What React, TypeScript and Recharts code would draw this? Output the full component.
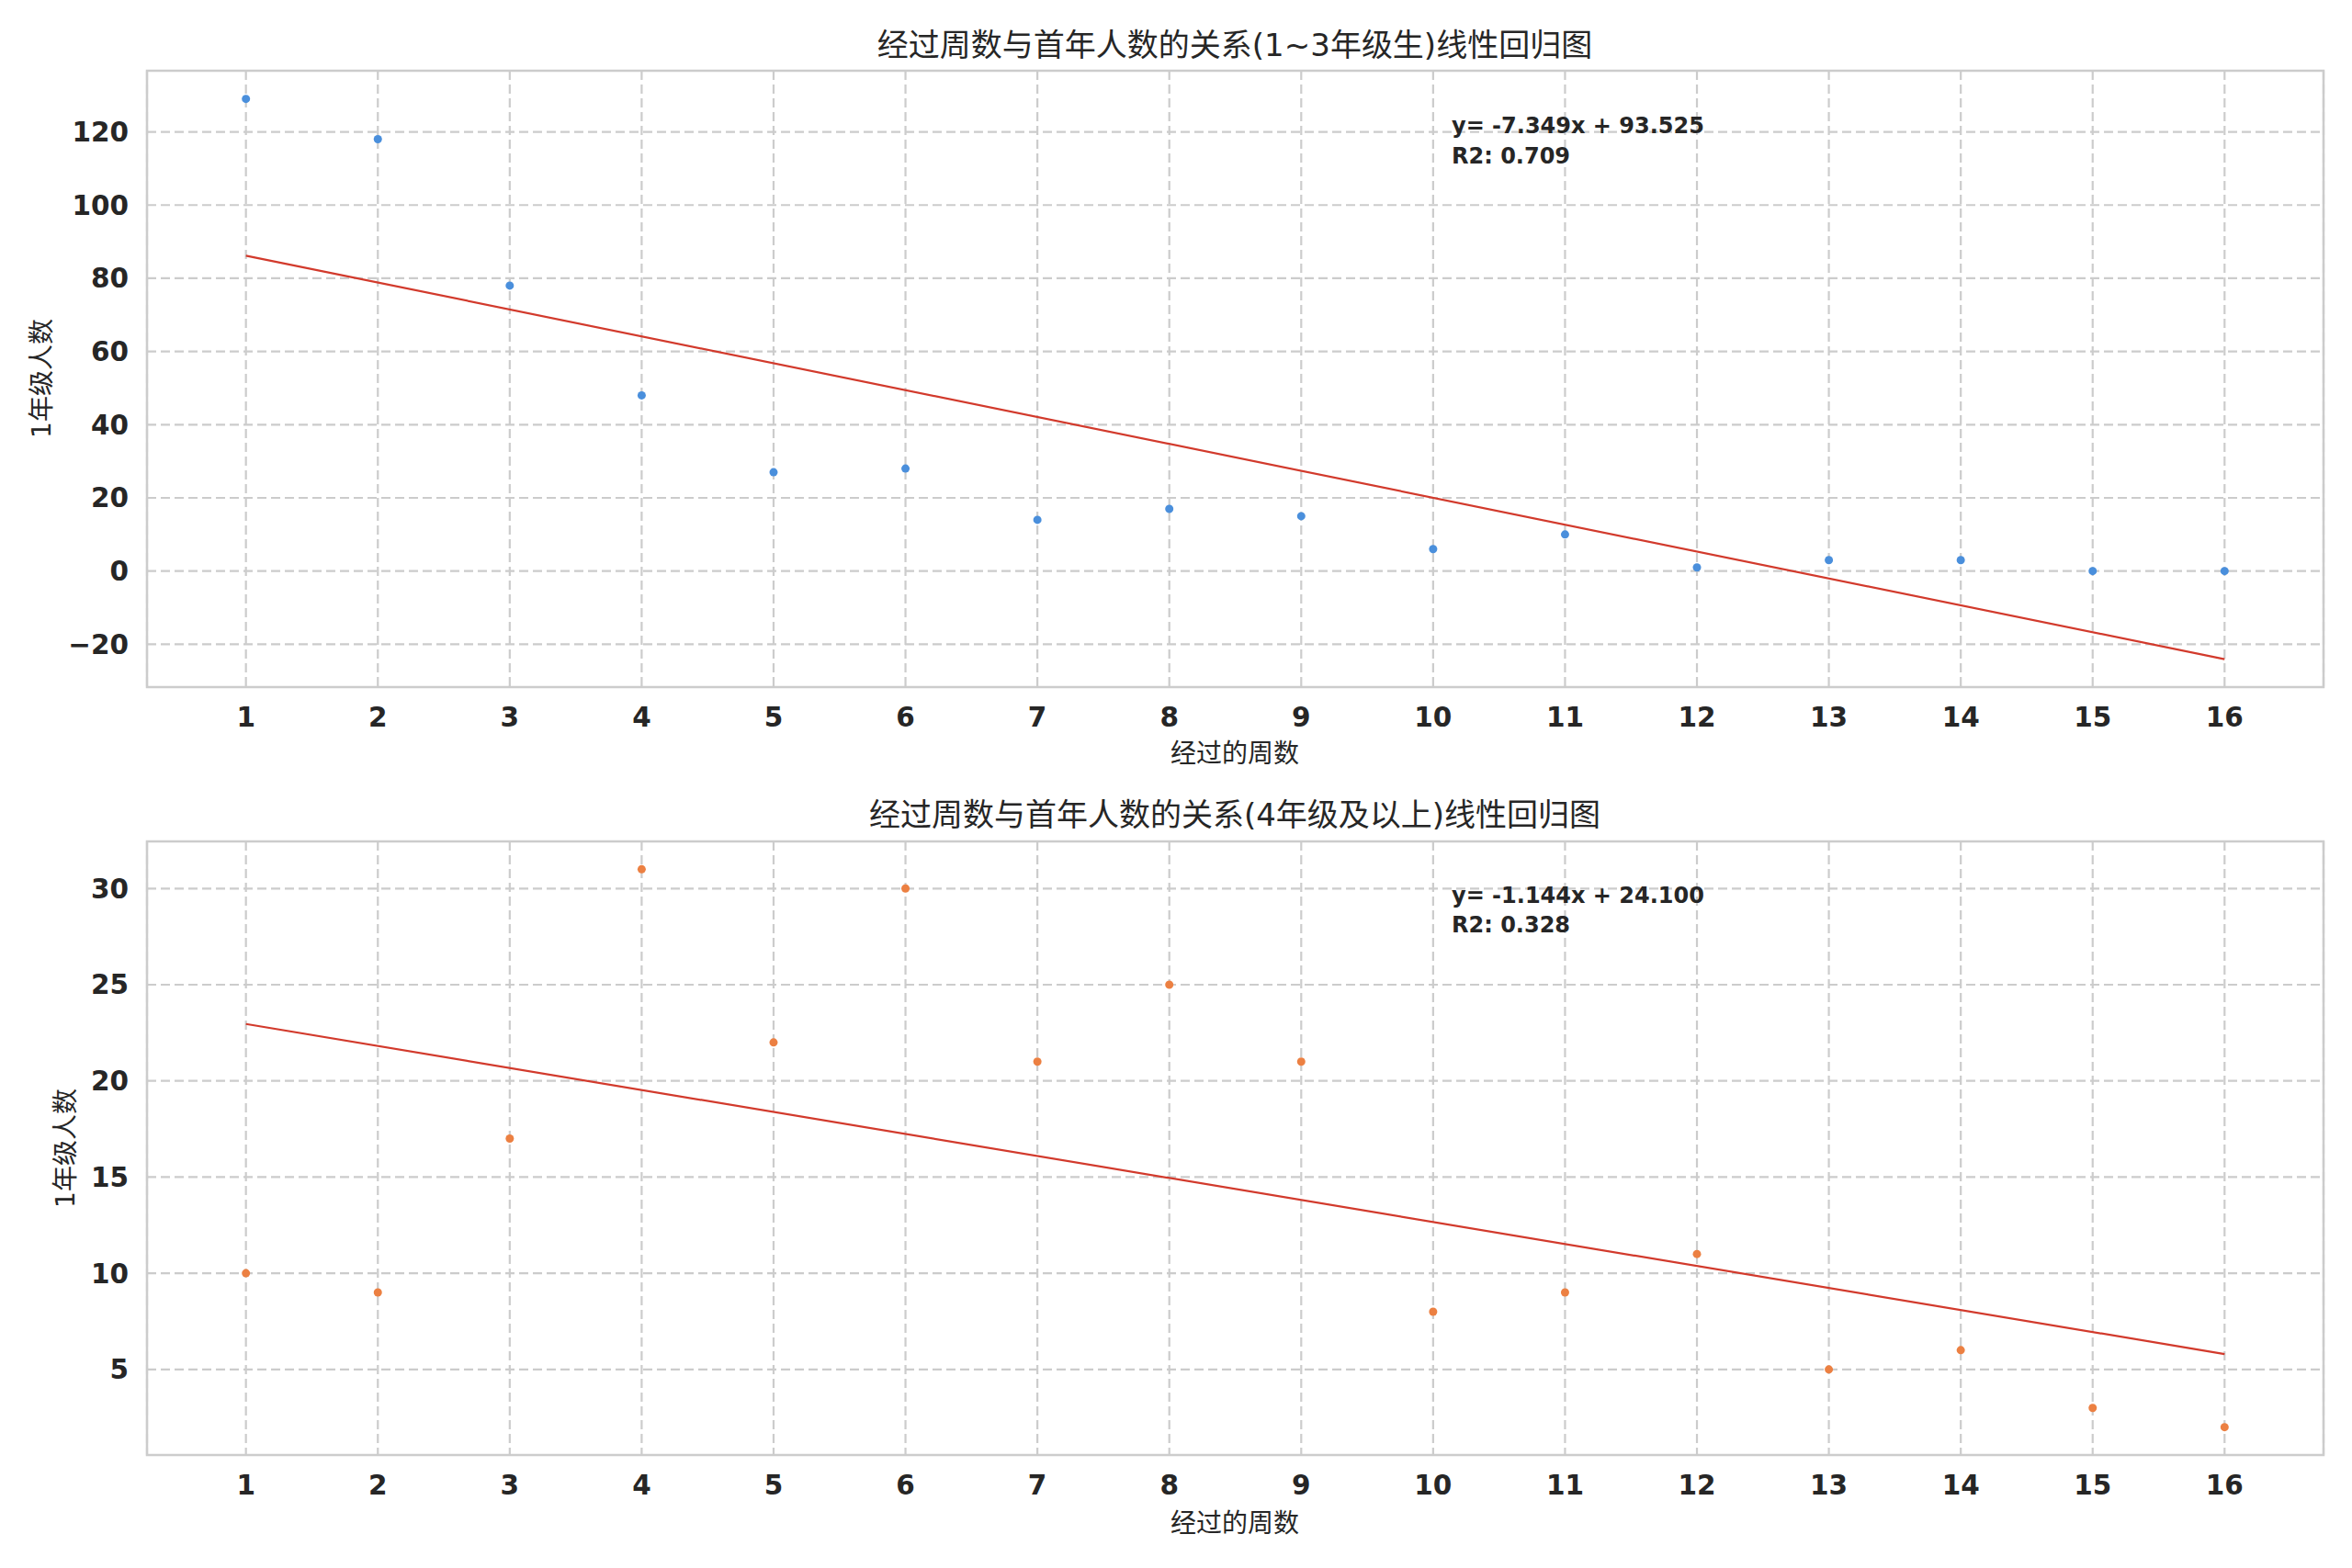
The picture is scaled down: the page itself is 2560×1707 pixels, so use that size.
import React from "react";
import {
  ComposedChart,
  Scatter,
  Line,
  XAxis,
  YAxis,
  CartesianGrid,
  ReferenceArea,
} from "recharts";

const WEEKS = [1, 2, 3, 4, 5, 6, 7, 8, 9, 10, 11, 12, 13, 14, 15, 16];
const EARLY_COUNTS = [129, 118, 78, 48, 27, 28, 14, 17, 15, 6, 10, 1, 3, 3, 0, 0];
const LATE_COUNTS = [10, 9, 17, 31, 22, 30, 21, 25, 21, 8, 9, 11, 5, 6, 3, 2];

const FIT_X = [1, 16];
const EARLY_FIT = [86.18, -24.06];
const LATE_FIT = [22.96, 5.8];

const EARLY_TICKS = [-20, 0, 20, 40, 60, 80, 100, 120];
const LATE_TICKS = [5, 10, 15, 20, 25, 30];

const X_LABEL = "经过的周数";
const Y_LABEL = "1年级人数";

const FONT = "'DejaVu Sans', 'Noto Sans CJK SC', sans-serif";
const TEXT = "#262626";
const GRID = "#cccccc";
const FIT_COLOR = "#d23a2c";
const W = 2560;

type PanelProps = {
  top: number;
  height: number;
  counts: number[];
  fit: number[];
  yDomain: [number, number];
  yTicks: number[];
  color: string;
  marginTop: number;
  marginBottom: number;
};

function fmt(v: number) {
  return v < 0 ? `\u2212${Math.abs(v)}` : String(v);
}

function Panel(p: PanelProps) {
  const points = WEEKS.map((x, i) => ({ x, y: p.counts[i] }));
  const fitLine = FIT_X.map((x, i) => ({ x, y: p.fit[i] }));
  const tick = { fill: TEXT, fontSize: 29.5, fontWeight: 700, fontFamily: FONT };
  return (
    <div style={{ position: "absolute", left: 0, top: p.top }}>
      <ComposedChart
        width={W}
        height={p.height}
        margin={{ top: p.marginTop, right: 31, bottom: p.marginBottom, left: 0 }}
      >
        <CartesianGrid stroke={GRID} strokeWidth={2.2} strokeDasharray="10 5" />
        <ReferenceArea
          x1={0.25}
          x2={16.75}
          y1={p.yDomain[0]}
          y2={p.yDomain[1]}
          fill="none"
          stroke={GRID}
          strokeWidth={2.5}
          ifOverflow="visible"
        />
        <XAxis
          type="number"
          dataKey="x"
          domain={[0.25, 16.75]}
          ticks={WEEKS}
          allowDataOverflow
          axisLine={false}
          tickLine={false}
          tickSize={0}
          tickMargin={22}
          height={60}
          tick={tick}
        />
        <YAxis
          type="number"
          domain={p.yDomain}
          ticks={p.yTicks}
          allowDataOverflow
          axisLine={false}
          tickLine={false}
          tickSize={0}
          tickMargin={20}
          width={160}
          tick={tick}
          tickFormatter={fmt}
        />
        <Scatter
          data={points}
          dataKey="y"
          isAnimationActive={false}
          shape={(s: any) => <circle cx={s.cx} cy={s.cy} r={4.5} fill={p.color} />}
        />
        <Line
          data={fitLine}
          dataKey="y"
          type="linear"
          stroke={FIT_COLOR}
          strokeWidth={2.2}
          dot={false}
          activeDot={false}
          isAnimationActive={false}
        />
      </ComposedChart>
    </div>
  );
}

function Txt({
  x,
  y,
  size,
  bold,
  rotate,
  left,
  children,
}: {
  x: number;
  y: number;
  size: number;
  bold?: boolean;
  rotate?: boolean;
  left?: boolean;
  children: React.ReactNode;
}) {
  const tf = left
    ? "translate(0,-50%)"
    : rotate
    ? "translate(-50%,-50%) rotate(-90deg)"
    : "translate(-50%,-50%)";
  return (
    <div
      style={{
        position: "absolute",
        left: x,
        top: y,
        transform: tf,
        whiteSpace: "nowrap",
        fontFamily: FONT,
        fontSize: size,
        fontWeight: bold ? 700 : 400,
        color: TEXT,
        lineHeight: 1,
      }}
    >
      {children}
    </div>
  );
}

export default function App() {
  return (
    <div style={{ position: "relative", width: W, height: 1707, background: "#fff", overflow: "hidden" }}>
      <style>{"body{margin:0}"}</style>
      <Panel
        top={0}
        height={840}
        counts={EARLY_COUNTS}
        fit={EARLY_FIT}
        yDomain={[-31.7, 136.7]}
        yTicks={EARLY_TICKS}
        color="#4a8fdc"
        marginTop={77}
        marginBottom={32}
      />
      <Panel
        top={853}
        height={854}
        counts={LATE_COUNTS}
        fit={LATE_FIT}
        yDomain={[0.55, 32.45]}
        yTicks={LATE_TICKS}
        color="#ec8042"
        marginTop={63}
        marginBottom={63}
      />
      <Txt x={1344} y={49} size={34}>经过周数与首年人数的关系(1~3年级生)线性回归图</Txt>
      <Txt x={1344} y={887} size={34}>经过周数与首年人数的关系(4年级及以上)线性回归图</Txt>
      <Txt x={1344} y={821} size={28}>{X_LABEL}</Txt>
      <Txt x={1344} y={1659} size={28}>{X_LABEL}</Txt>
      <Txt x={46} y={412} size={28} rotate>{Y_LABEL}</Txt>
      <Txt x={72} y={1250} size={28} rotate>{Y_LABEL}</Txt>
      <Txt x={1580} y={137} size={24} bold left>y= -7.349x + 93.525</Txt>
      <Txt x={1580} y={170} size={24} bold left>R2: 0.709</Txt>
      <Txt x={1580} y={975} size={24} bold left>y= -1.144x + 24.100</Txt>
      <Txt x={1580} y={1007} size={24} bold left>R2: 0.328</Txt>
    </div>
  );
}
